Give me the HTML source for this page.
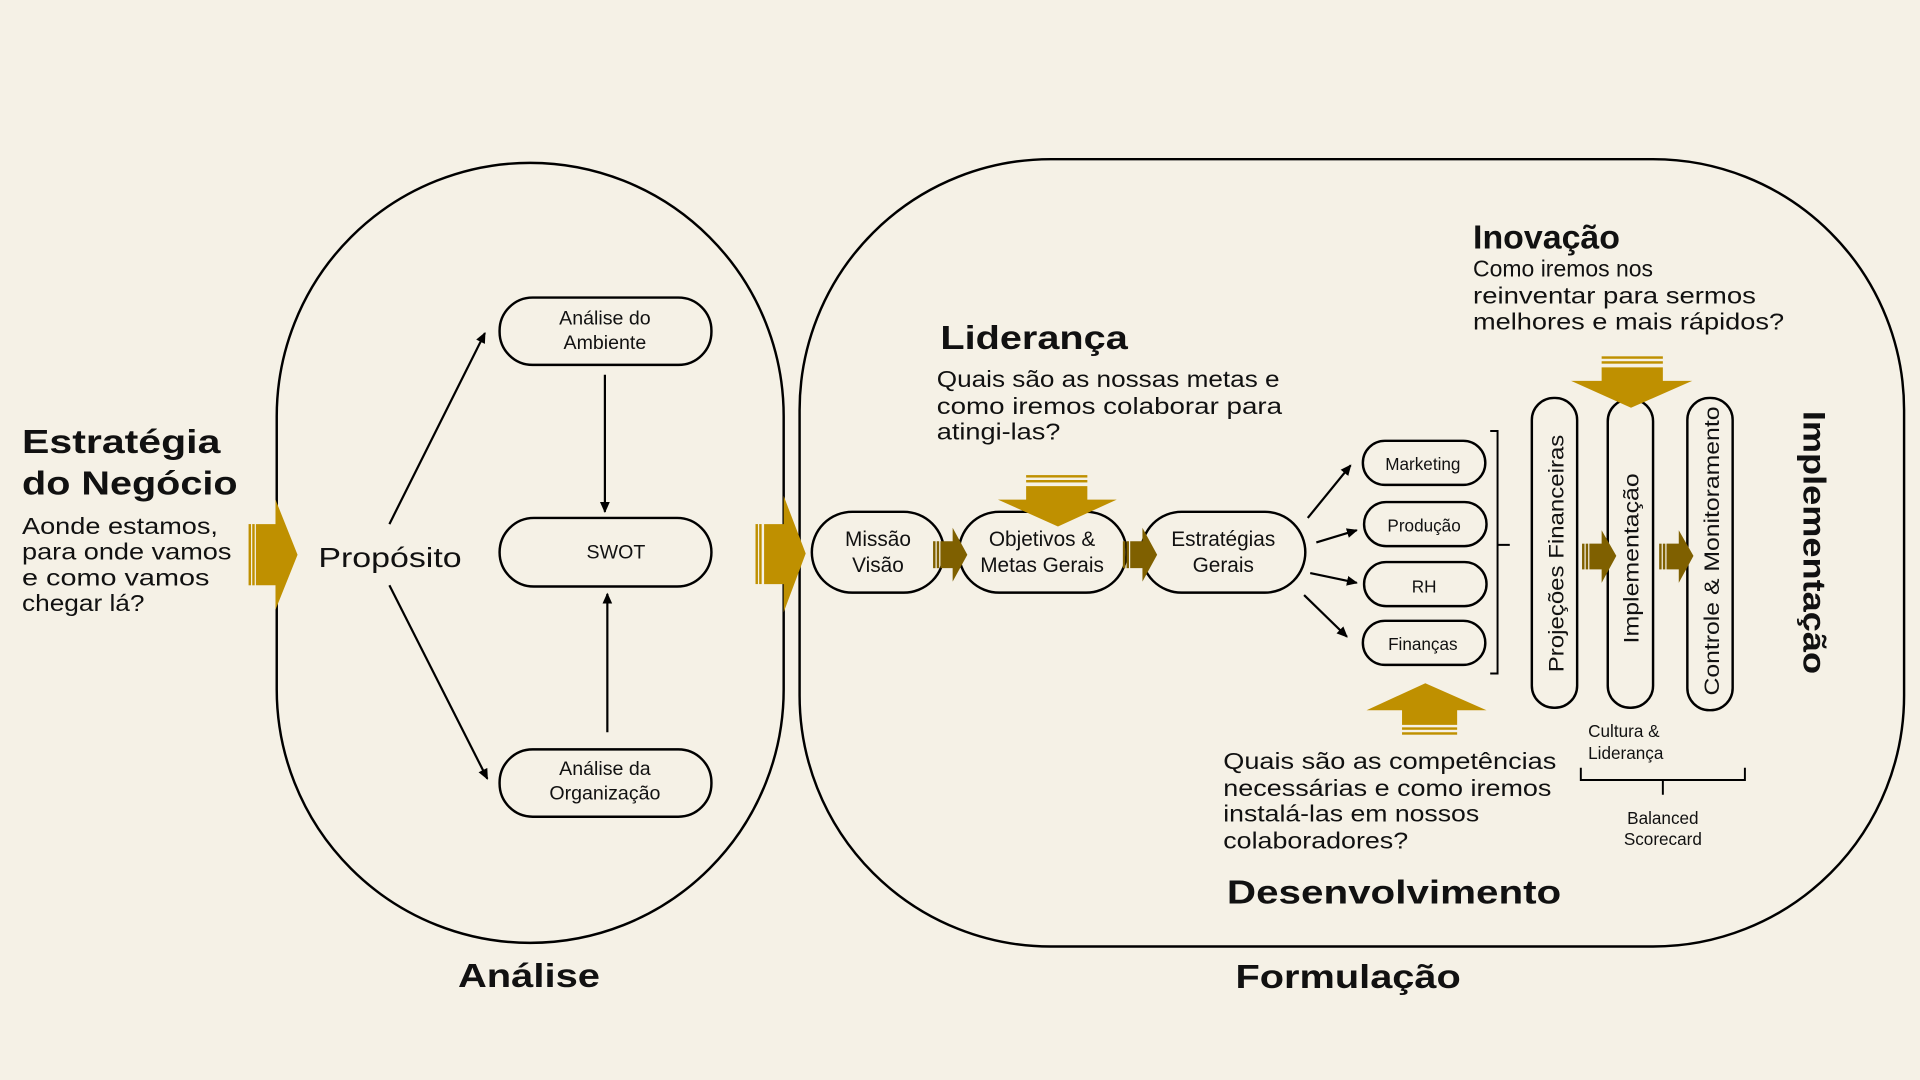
<!DOCTYPE html>
<html><head><meta charset="utf-8"><style>
html,body{margin:0;padding:0;width:1920px;height:1080px;overflow:hidden;background:#f5f1e6;}
svg{display:block}
text{font-family:"Liberation Sans",sans-serif;fill:#111;}
.b{font-weight:bold}
</style></head><body>
<svg width="1920" height="1080" viewBox="0 0 1568 882" preserveAspectRatio="none">
<defs>
<marker id="a" markerWidth="10" markerHeight="10" refX="8" refY="5" orient="auto" markerUnits="userSpaceOnUse"><path d="M0,1 L9,5 L0,9 z" fill="#000"/></marker>
</defs>
<rect width="1568" height="882" fill="#f5f1e6"/>
<g fill="none" stroke="#000" stroke-width="2">
<rect x="226" y="133" width="414" height="637" rx="207"/>
<rect x="653" y="130" width="902" height="643" rx="205"/>
<rect x="408" y="243" width="173" height="55" rx="27"/>
<rect x="408" y="423" width="173" height="56" rx="28"/>
<rect x="408" y="612" width="173" height="55" rx="27"/>
<rect x="663" y="418" width="108" height="66" rx="33"/>
<rect x="783" y="418" width="137" height="66" rx="33"/>
<rect x="932" y="418" width="134" height="66" rx="33"/>
<rect x="1113" y="360" width="100" height="36" rx="18"/>
<rect x="1114" y="410" width="100" height="36" rx="18"/>
<rect x="1114" y="459" width="100" height="36" rx="18"/>
<rect x="1113" y="507" width="100" height="36" rx="18"/>
<rect x="1251" y="325" width="37" height="253" rx="18"/>
<rect x="1313" y="326" width="37" height="252" rx="18"/>
<rect x="1378" y="325" width="37" height="255" rx="18"/>
<path d="M1217,352 h6 v93 h10 M1223,445 v105 h-6" stroke-width="1.6"/>
<path d="M1291,627 v10 h67 v12 M1358,637 h67 v-10" stroke-width="1.6"/>
</g>
<g stroke="#000" stroke-width="1.8" marker-end="url(#a)">
<line x1="318" y1="428" x2="396" y2="272"/>
<line x1="318" y1="478" x2="398" y2="636"/>
<line x1="494" y1="306" x2="494" y2="418"/>
<line x1="496" y1="598" x2="496" y2="485"/>
<line x1="1068" y1="423" x2="1103" y2="380"/>
<line x1="1075" y1="443" x2="1108" y2="433"/>
<line x1="1070" y1="468" x2="1108" y2="476"/>
<line x1="1065" y1="486" x2="1100" y2="520"/>
</g>
<g fill="#bf9000">
<path d="M209,428 h16 v-20 l18,45 -18,45 v-20 h-16z"/>
<rect x="203" y="428" width="2" height="50"/><rect x="206" y="428" width="2" height="50"/>
<path d="M624,428 h16 v-23 l18,47 -18,48 v-23 h-16z"/>
<rect x="617" y="428" width="2" height="49"/><rect x="620" y="428" width="2" height="49"/>
<path d="M838,397 h50 v11 h24 l-48,22 -49,-22 h23z"/>
<rect x="838" y="388" width="50" height="2"/><rect x="838" y="392" width="50" height="2"/>
<path d="M1308,300 h50 v11 h24 l-50,22 -49,-22 h25z"/>
<rect x="1308" y="291" width="50" height="2"/><rect x="1308" y="295" width="50" height="2"/>
<path d="M1145,592 h45 v-12 h24 l-50,-22 -48,22 h29z"/>
<rect x="1145" y="594" width="45" height="2"/><rect x="1145" y="598" width="45" height="2"/>
</g>
<g fill="#7f6000">
<path d="M768,442 h10 v-11 l12,22 -12,22 v-11 h-10z"/><rect x="762" y="442" width="2" height="22"/><rect x="765" y="442" width="2" height="22"/>
<path d="M923,442 h10 v-11 l12,22 -12,22 v-11 h-10z"/><rect x="917" y="442" width="2" height="22"/><rect x="920" y="442" width="2" height="22"/>
<path d="M1298,444 h10 v-11 l12,21 -12,22 v-11 h-10z"/><rect x="1292" y="444" width="2" height="21"/><rect x="1295" y="444" width="2" height="21"/>
<path d="M1361,444 h10 v-11 l12,21 -12,22 v-11 h-10z"/><rect x="1355" y="444" width="2" height="21"/><rect x="1358" y="444" width="2" height="21"/>
</g>
<g lengthAdjust="spacingAndGlyphs">
<text class="b" x="18" y="370" font-size="27" textLength="162" lengthAdjust="spacingAndGlyphs">Estratégia</text>
<text class="b" x="18" y="404" font-size="27" textLength="176" lengthAdjust="spacingAndGlyphs">do Negócio</text>
<g font-size="19">
<text x="18" y="436" textLength="160" lengthAdjust="spacingAndGlyphs">Aonde estamos,</text>
<text x="18" y="457" textLength="171" lengthAdjust="spacingAndGlyphs">para onde vamos</text>
<text x="18" y="478" textLength="153" lengthAdjust="spacingAndGlyphs">e como vamos</text>
<text x="18" y="499" textLength="100" lengthAdjust="spacingAndGlyphs">chegar lá?</text></g>
<text x="260" y="463" font-size="23" textLength="117" lengthAdjust="spacingAndGlyphs">Propósito</text>
</g>
<g font-size="16" text-anchor="middle">
<text x="494" y="265">Análise do</text><text x="494" y="285">Ambiente</text>
<text x="503" y="456">SWOT</text>
<text x="494" y="633">Análise da</text><text x="494" y="653">Organização</text>
</g>
<g font-size="17" text-anchor="middle">
<text x="717" y="446">Missão</text><text x="717" y="467">Visão</text>
<text x="851" y="446">Objetivos &amp;</text><text x="851" y="467">Metas Gerais</text>
<text x="999" y="446">Estratégias</text><text x="999" y="467">Gerais</text>
</g>
<g font-size="14" text-anchor="middle">
<text x="1162" y="384">Marketing</text><text x="1163" y="434">Produção</text><text x="1163" y="484">RH</text><text x="1162" y="531">Finanças</text>
</g>
<g font-size="17" text-anchor="middle">
<text transform="translate(1277,452) rotate(-90)" textLength="194" lengthAdjust="spacingAndGlyphs">Projeções Financeiras</text>
<text transform="translate(1338,456) rotate(-90)" textLength="139" lengthAdjust="spacingAndGlyphs">Implementação</text>
<text transform="translate(1404,450) rotate(-90)" textLength="236" lengthAdjust="spacingAndGlyphs">Controle &amp; Monitoramento</text>
</g>
<text class="b" font-size="26" text-anchor="middle" transform="translate(1473,443) rotate(90)" textLength="215" lengthAdjust="spacingAndGlyphs">Implementação</text>
<text class="b" x="768" y="285" font-size="27" textLength="153" lengthAdjust="spacingAndGlyphs">Liderança</text>
<g font-size="19">
<text x="765" y="316" textLength="280" lengthAdjust="spacingAndGlyphs">Quais são as nossas metas e</text>
<text x="765" y="338" textLength="282" lengthAdjust="spacingAndGlyphs">como iremos colaborar para</text>
<text x="765" y="359" textLength="101" lengthAdjust="spacingAndGlyphs">atingi-las?</text></g>
<text class="b" x="1203" y="203" font-size="27" textLength="120" lengthAdjust="spacingAndGlyphs">Inovação</text>
<g font-size="19">
<text x="1203" y="226" textLength="147" lengthAdjust="spacingAndGlyphs">Como iremos nos</text>
<text x="1203" y="248" textLength="231" lengthAdjust="spacingAndGlyphs">reinventar para sermos</text>
<text x="1203" y="269" textLength="254" lengthAdjust="spacingAndGlyphs">melhores e mais rápidos?</text></g>
<g font-size="19">
<text x="999" y="628" textLength="272" lengthAdjust="spacingAndGlyphs">Quais são  as competências</text>
<text x="999" y="650" textLength="268" lengthAdjust="spacingAndGlyphs">necessárias e como iremos</text>
<text x="999" y="671" textLength="209" lengthAdjust="spacingAndGlyphs">instalá-las em nossos</text>
<text x="999" y="693" textLength="151" lengthAdjust="spacingAndGlyphs">colaboradores?</text></g>
<text class="b" x="1002" y="738" font-size="27" textLength="273" lengthAdjust="spacingAndGlyphs">Desenvolvimento</text>
<g font-size="14"><text x="1297" y="602">Cultura &amp;</text><text x="1297" y="620">Liderança</text></g>
<g font-size="14" text-anchor="middle"><text x="1358" y="673">Balanced</text><text x="1358" y="690">Scorecard</text></g>
<text class="b" x="374" y="806" font-size="27" textLength="116" lengthAdjust="spacingAndGlyphs">Análise</text>
<text class="b" x="1009" y="807" font-size="27" textLength="184" lengthAdjust="spacingAndGlyphs">Formulação</text>
</svg>
</body></html>
